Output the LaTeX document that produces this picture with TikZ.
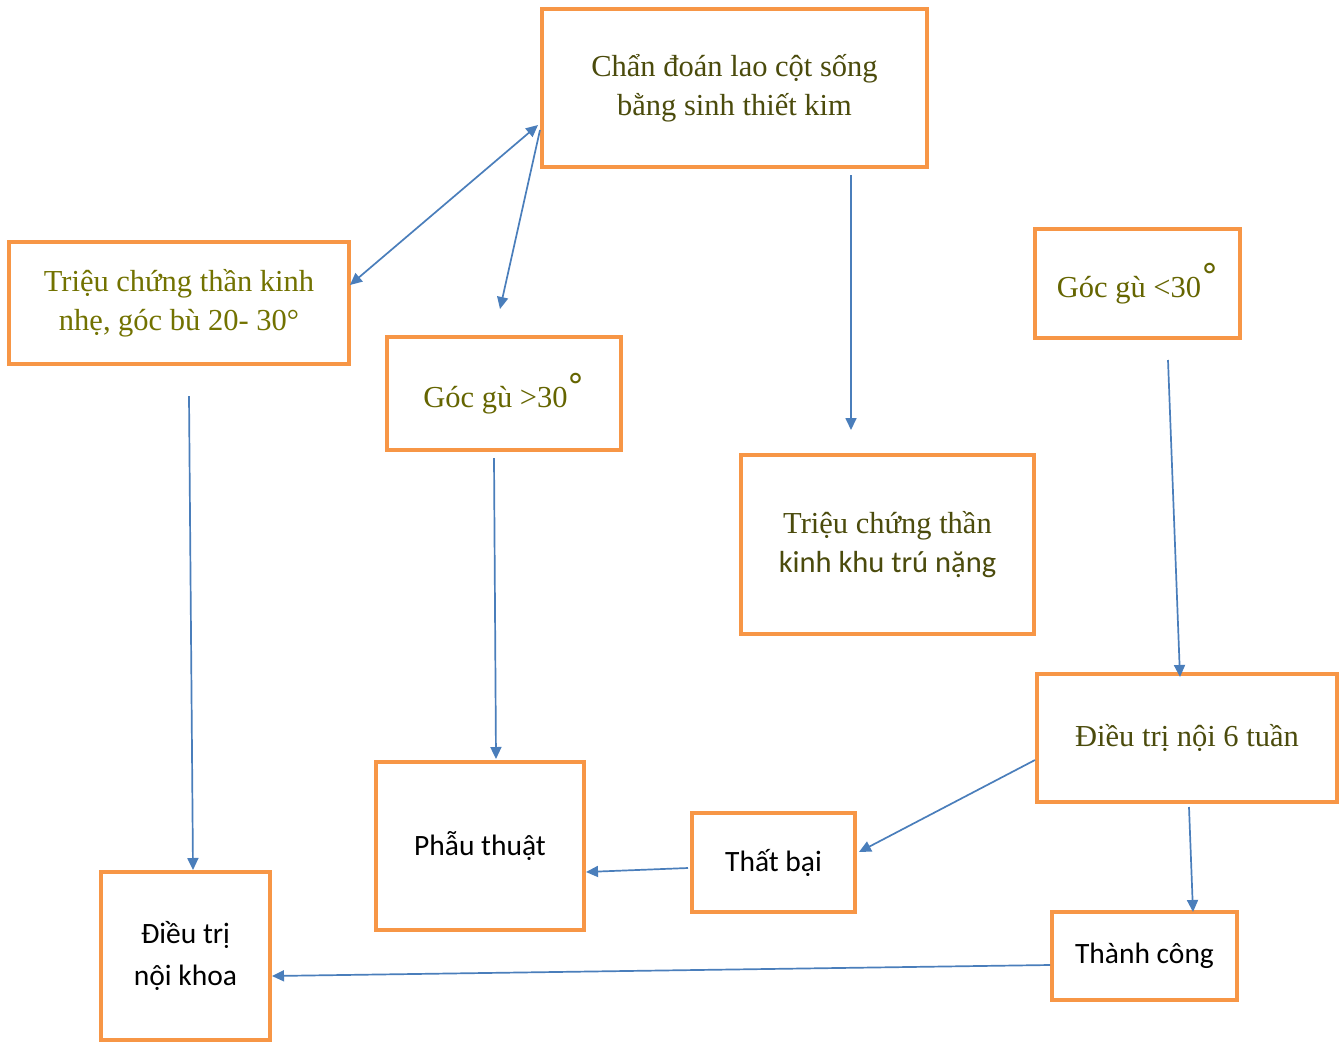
\documentclass[tikz,border=0pt]{standalone}
\usepackage{fontspec}
\setmainfont{Liberation Serif}
\newfontfamily\sansf{Carlito}
\newfontfamily\degf{DejaVu Sans}
\usetikzlibrary{arrows.meta}
\definecolor{boxorange}{HTML}{F79646}
\definecolor{arrowblue}{HTML}{4A7EBB}
\definecolor{olivedark}{HTML}{4B4B0C}
\definecolor{olivemid}{HTML}{656500}
\definecolor{olivelight}{HTML}{727200}
\newcommand{\degmark}{\raisebox{0.28em}{\degf\fontsize{34}{34}\selectfont °}}
\tikzset{
  box/.style={draw=boxorange, line width=4pt, fill=white, align=center, inner sep=0pt},
  serift/.style={font=\fontsize{30.5}{39.5}\selectfont},
  sanst/.style={font=\sansf\fontsize{29.5}{42}\selectfont, text=black},
  conn/.style={draw=arrowblue, line width=1.7pt, -{Triangle[length=12pt,width=11pt]}},
  dconn/.style={draw=arrowblue, line width=1.7pt, {Triangle[length=12pt,width=11pt]}-{Triangle[length=12pt,width=11pt]}}
}
\begin{document}
\begin{tikzpicture}[x=1pt,y=-1pt]
\useasboundingbox[fill=white] (0,0) rectangle (1339,1042);
% boxes
\node[box, serift, text=olivedark, minimum width=385pt, minimum height=158pt] (A) at (734.5,88) {Chẩn đoán lao cột sống\\bằng sinh thiết kim};
\node[box, serift, text=olivelight, minimum width=340pt, minimum height=122pt] (B) at (179,303) {Triệu chứng thần kinh\\nhẹ, góc bù 20- 30°};
\node[box, serift, text=olivemid, minimum width=234pt, minimum height=113pt] (C) at (504,393.5) {Góc gù >30\degmark};
\node[box, serift, text=olivedark, minimum width=293pt, minimum height=179pt] (D) at (887.5,544.5) {Triệu chứng thần\\{\sansf kinh khu trú nặng}};
\node[box, serift, text=olivemid, minimum width=205pt, minimum height=109pt] (E) at (1137.5,283.5) {Góc gù <30\degmark};
\node[box, serift, text=olivedark, minimum width=300pt, minimum height=128pt] (F) at (1187,738) {Điều trị nội 6 tuần};
\node[box, sanst, minimum width=208pt, minimum height=168pt] (G) at (480,846) {Phẫu thuật};
\node[box, sanst, minimum width=163pt, minimum height=99pt] (H) at (773.5,862.5) {Thất bại};
\node[box, sanst, minimum width=185pt, minimum height=88pt] (I) at (1144.5,956) {Thành công};
\node[box, sanst, minimum width=169pt, minimum height=168pt] (J) at (185.5,956) {Điều trị\\nội khoa};
% connector end points
\coordinate (a1) at (350,285);
\coordinate (a2) at (538,125);
\coordinate (b1) at (540,130);
\coordinate (b2) at (500,309);
\coordinate (c1) at (851,175);
\coordinate (c2) at (851,430);
\coordinate (d1) at (189,396);
\coordinate (d2) at (193,870);
\coordinate (e1) at (494,458);
\coordinate (e2) at (496,759);
\coordinate (f1) at (1168,360);
\coordinate (f2) at (1180,677);
\coordinate (g1) at (1035,760);
\coordinate (g2) at (859,852);
\coordinate (h1) at (688,868);
\coordinate (h2) at (586,872);
\coordinate (i1) at (1189,807);
\coordinate (i2) at (1193,912);
\coordinate (j1) at (1050,965);
\coordinate (j2) at (272,976);
% connectors
\draw[dconn] (a1) -- (a2);
\draw[conn] (b1) -- (b2);
\draw[conn] (c1) -- (c2);
\draw[conn] (d1) -- (d2);
\draw[conn] (e1) -- (e2);
\draw[conn] (f1) -- (f2);
\draw[conn] (g1) -- (g2);
\draw[conn] (h1) -- (h2);
\draw[conn] (i1) -- (i2);
\draw[conn] (j1) -- (j2);
\end{tikzpicture}
\end{document}
